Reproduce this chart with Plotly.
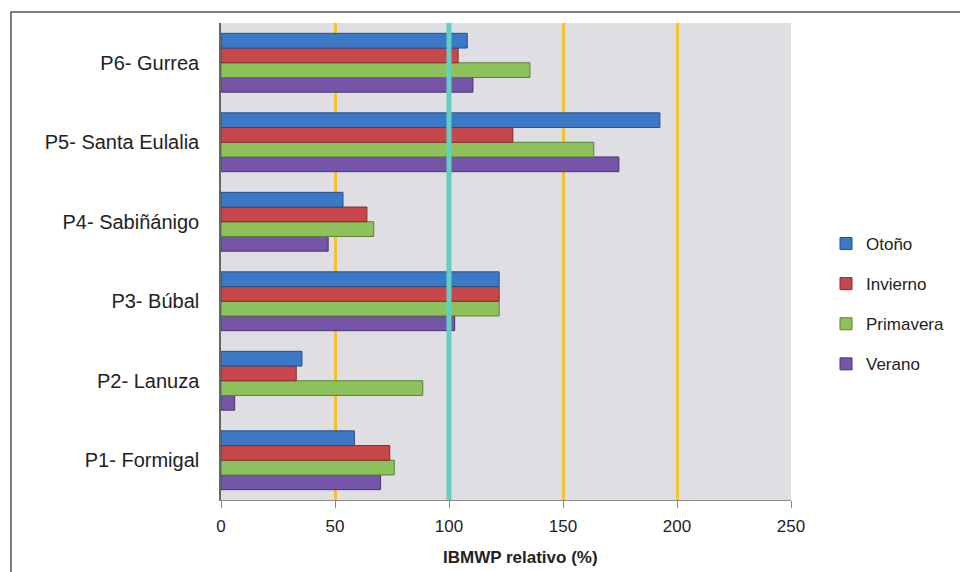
import plotly.graph_objects as go

categories = ["P1- Formigal", "P2- Lanuza", "P3- Búbal", "P4- Sabiñánigo", "P5- Santa Eulalia", "P6- Gurrea"]
otono = [58.5, 35.5, 122, 53.5, 192.5, 108]
invierno = [74, 33, 122, 64, 128, 104]
primavera = [76, 88.5, 122, 67, 163.5, 135.5]
verano = [70, 6, 102.5, 47, 174.5, 110.5]
x_ticks = [0, 50, 100, 150, 200, 250]
reference_value = 100

series = [
    ("Verano", verano, "#7654A8", "#4a3470", 4),
    ("Primavera", primavera, "#8DC25B", "#5c7f3a", 3),
    ("Invierno", invierno, "#C8474B", "#842c2f", 2),
    ("Otoño", otono, "#3B78C6", "#264f86", 1),
]

FONT = "Liberation Sans, Arial, sans-serif"

fig = go.Figure()
for name, vals, col, edge, rank in series:
    fig.add_trace(go.Bar(
        y=categories, x=vals, name=name, orientation="h",
        marker=dict(color=col, line=dict(color=edge, width=1)),
        legendgroup=name, legendrank=rank,
    ))

fig.add_shape(type="line", xref="x", yref="paper", x0=reference_value, x1=reference_value,
              y0=0, y1=1, line=dict(color="#62CFC3", width=5), layer="above")

# outer frame
fig.add_shape(type="rect", xref="paper", yref="paper",
              x0=(11 - 221) / 570, x1=(975 - 221) / 570,
              y0=(500 - 590) / 477, y1=(500 - 12) / 477,
              line=dict(color="#555555", width=1.5), fillcolor="rgba(0,0,0,0)", layer="below")

fig.add_annotation(text="<b>IBMWP relativo (%)</b>", xref="paper", yref="paper",
                   x=(520 - 221) / 570, y=(500 - 557) / 477, showarrow=False,
                   xanchor="center", yanchor="middle",
                   font=dict(family=FONT, size=17, color="#222222"))

fig.update_layout(
    width=960, height=572,
    margin=dict(l=221, r=169, t=23, b=72, autoexpand=False),
    paper_bgcolor="white", plot_bgcolor="#DFDFE3",
    barmode="group", bargap=0.26, bargroupgap=0,
    font=dict(family=FONT, color="#222222"),
    legend=dict(x=(826 - 221) / 570, y=(500 - 226) / 477, xanchor="left", yanchor="top",
                traceorder="grouped", tracegroupgap=15,
                font=dict(family=FONT, size=17, color="#222222"),
                bgcolor="rgba(0,0,0,0)"),
    showlegend=True,
)
fig.update_xaxes(range=[0, 250], tickvals=x_ticks, showgrid=True, gridcolor="#F2C230", gridwidth=2.5,
                 zeroline=False, showline=True, linecolor="#888888", linewidth=1,
                 ticks="outside", ticklen=7, tickcolor="#888888",
                 tickfont=dict(family=FONT, size=17, color="#222222"), ticklabelstandoff=4)
fig.update_yaxes(showgrid=False, zeroline=False, showline=True, linecolor="#666666", linewidth=1.5,
                 ticks="", tickfont=dict(family=FONT, size=20, color="#222222"), ticklabelstandoff=16)

fig.write_html("out.html")
